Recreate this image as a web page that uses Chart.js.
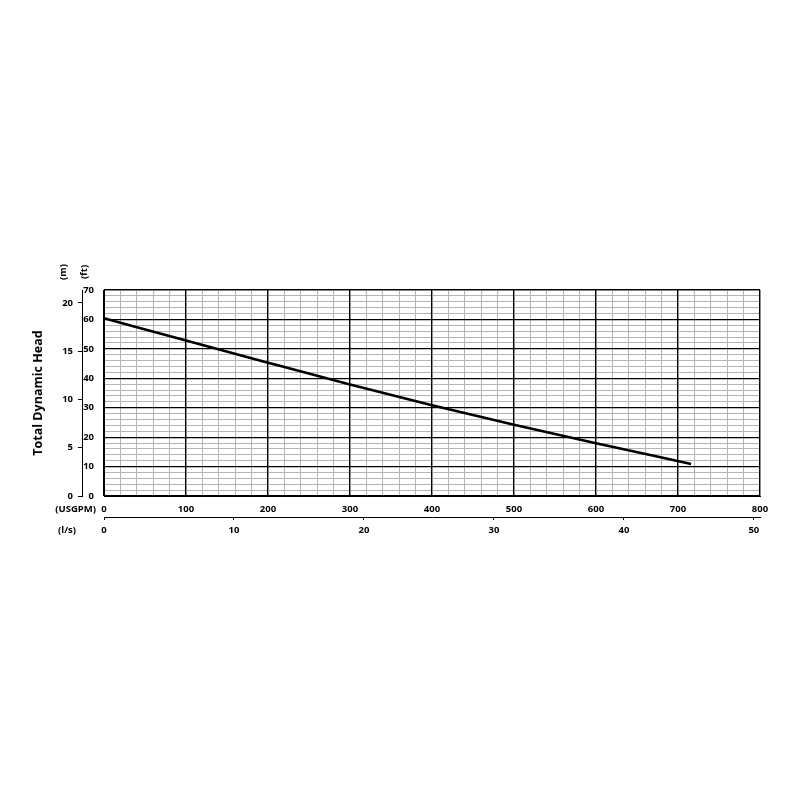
<!DOCTYPE html>
<html>
<head>
<meta charset="utf-8">
<script src="https://cdn.jsdelivr.net/npm/chart.js@4.4.1/dist/chart.umd.min.js"></script>
<style>
  html, body { margin: 0; padding: 0; background: #fff; }
  #wrap { width: 800px; height: 800px; }
</style>
</head>
<body>
<div id="wrap"><canvas id="pumpChart"></canvas></div>
<script>
// Pump curve data
var flowUsgpm = [0, 100, 200, 300, 400, 500, 600, 716];
var headFt = [60.4, 52.8, 45.3, 37.9, 30.8, 24.2, 17.9, 10.9];

// Axis ranges and labels
var usgpmMax = 800;
var ftMax = 70;
var ftPerM = 3.2808;
var usgpmPerLs = 15.8503;
var extraLabels = ['(m)', '(ft)', '(USGPM)', '(l/s)'];

var FONT = '"Open Sans", "DejaVu Sans", sans-serif';
var tickFont = { family: FONT, size: 9.5, weight: 'bold' };
var MINOR = '#b4b4b4';

// Draws the small unit labels beside the axes
const unitLabels = {
    id: 'unitLabels',
    afterDraw(chart) {
        const ctx = chart.ctx;
        const area = chart.chartArea;
        const xs = chart.scales.x;
        const ls = chart.scales.ls;
        ctx.save();
        ctx.fillStyle = '#000';
        ctx.font = 'bold 9.5px ' + FONT;
        ctx.textBaseline = 'middle';

        // rotated (m) and (ft) above the left axes
        ctx.textAlign = 'center';
        [[extraLabels[0], area.left - 41], [extraLabels[1], area.left - 20]].forEach(function (item) {
            ctx.save();
            ctx.translate(item[1], area.top - 18);
            ctx.rotate(-Math.PI / 2);
            ctx.fillText(item[0], 0, 0);
            ctx.restore();
        });

        // (USGPM) and (l/s) in front of the bottom axes
        ctx.textAlign = 'right';
        ctx.fillText(extraLabels[2], area.left - 8, xs.top + 13.5);
        ctx.fillText(extraLabels[3], area.left - 28, ls.top + 13.5);
        ctx.restore();
    }
};

// a hidden scale that only draws the black major grid lines on top of the gray ones
function majorGrid(pos, max, step) {
    return {
        type: 'linear',
        position: pos,
        min: 0,
        max: max,
        weight: 5,
        z: 1,
        afterFit: s => { if (pos === 'left') s.width = 0; else s.height = 0; },
        border: { display: false },
        grid: { drawTicks: false, color: '#000', lineWidth: 1.2 },
        ticks: { display: false, stepSize: step, autoSkip: false }
    };
}

let pumpChart;

function drawChart() {
    const points = flowUsgpm.map((q, i) => ({ x: q, y: headFt[i] }));

    pumpChart = new Chart('pumpChart', {
        type: 'line',
        data: {
            datasets: [{
                data: points,
                borderColor: '#000',
                borderWidth: 2.6,
                pointRadius: 0,
                cubicInterpolationMode: 'monotone',
                fill: false
            }]
        },
        options: {
            responsive: true,
            maintainAspectRatio: false,
            animation: false,
            layout: { padding: { top: 290, right: 40, bottom: 259, left: 31 } },
            plugins: { legend: { display: false }, tooltip: { enabled: false } },
            scales: {
                x: {
                    type: 'linear',
                    position: 'bottom',
                    min: 0,
                    max: usgpmMax,
                    weight: 0,
                    afterFit: s => { s.height = 21; },
                    border: { display: true, color: '#000', width: 1 },
                    grid: { drawTicks: false, color: MINOR, lineWidth: 1 },
                    ticks: {
                        stepSize: 20,
                        autoSkip: false,
                        maxRotation: 0,
                        minRotation: 0,
                        padding: 8,
                        color: '#000',
                        font: tickFont,
                        callback: v => (v % 100 === 0 ? v : '')
                    }
                },
                ls: {
                    type: 'linear',
                    position: 'bottom',
                    min: 0,
                    max: usgpmMax / usgpmPerLs,
                    weight: 1,
                    afterFit: s => { s.height = 24; },
                    border: { display: true, color: '#000', width: 1 },
                    grid: { drawOnChartArea: false, drawTicks: true, tickLength: 3, color: '#000' },
                    ticks: {
                        stepSize: 10,
                        includeBounds: false,
                        maxRotation: 0,
                        minRotation: 0,
                        padding: 5,
                        color: '#000',
                        font: tickFont
                    }
                },
                y: {
                    type: 'linear',
                    position: 'left',
                    min: 0,
                    max: ftMax,
                    weight: 0,
                    afterFit: s => { s.width = 22; },
                    border: { display: true, color: '#000', width: 1 },
                    grid: { drawTicks: false, color: MINOR, lineWidth: 1 },
                    ticks: {
                        stepSize: 2,
                        autoSkip: false,
                        padding: 10,
                        color: '#000',
                        font: tickFont,
                        callback: v => (v % 10 === 0 ? v : '')
                    }
                },
                m: {
                    type: 'linear',
                    position: 'left',
                    min: 0,
                    max: ftMax / ftPerM,
                    weight: 1,
                    afterFit: s => { s.width = 51; },
                    border: { display: true, color: '#000', width: 1 },
                    grid: { drawOnChartArea: false, drawTicks: true, tickLength: 4, color: '#000' },
                    ticks: {
                        stepSize: 5,
                        includeBounds: false,
                        padding: 5,
                        color: '#000',
                        font: tickFont
                    },
                    title: {
                        display: true,
                        text: 'Total Dynamic Head',
                        color: '#000',
                        font: { family: FONT, size: 12.5, weight: 'bold' },
                        padding: { top: 0, bottom: 8 }
                    }
                },
                xMajor: majorGrid('bottom', usgpmMax, 100),
                yMajor: majorGrid('left', ftMax, 10)
            }
        },
        plugins: [unitLabels]
    });
}

window.onload = function () {
    drawChart();
};
</script>
</body>
</html>
